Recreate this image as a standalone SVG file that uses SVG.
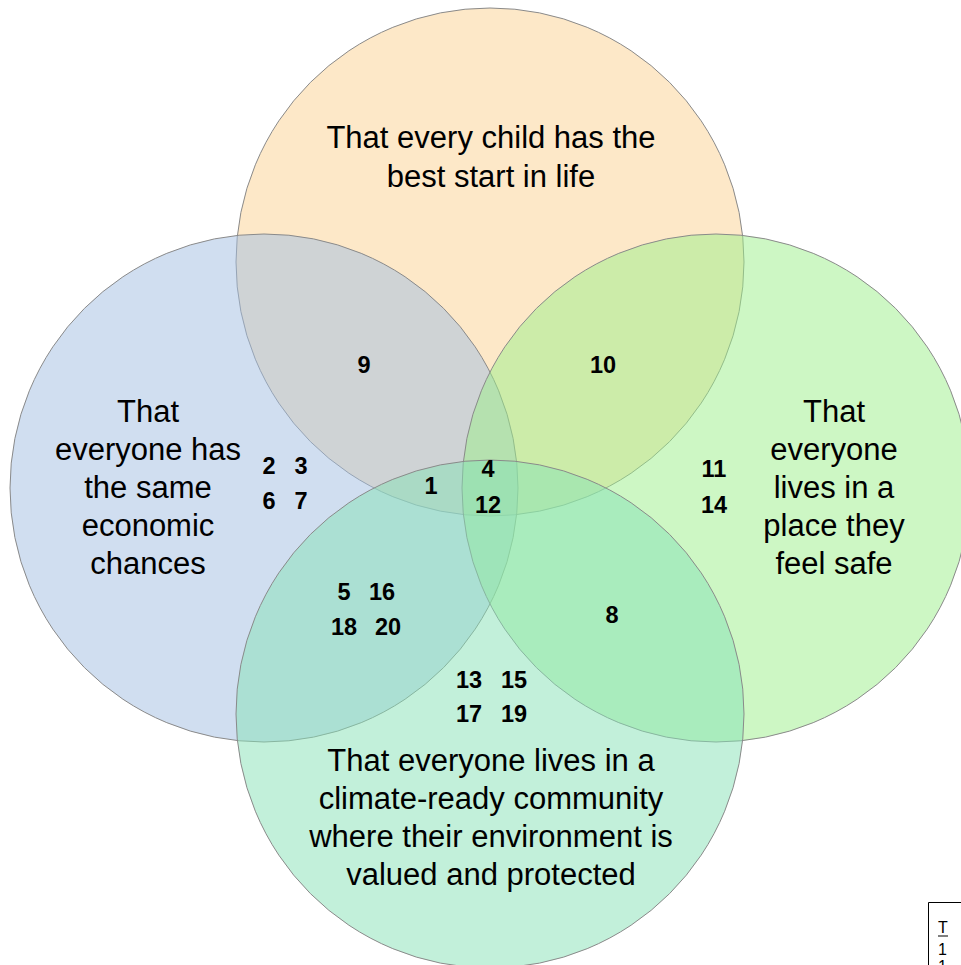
<svg xmlns="http://www.w3.org/2000/svg" width="961" height="965" viewBox="0 0 961 965">
<style>
.c{stroke:#8a8a8a;stroke-width:1;fill-opacity:0.5}
.lbl{font-family:"Liberation Sans",Arial,sans-serif;font-size:31px;fill:#000;text-anchor:middle}
.num{font-family:"Liberation Sans",Arial,sans-serif;font-size:23.5px;font-weight:bold;fill:#000;text-anchor:middle}
.tb{font-family:"Liberation Sans",Arial,sans-serif;font-size:16px;fill:#000}
</style>
<rect width="961" height="965" fill="#fff"/>
<g id="top-circle"><circle class="c" cx="490" cy="262" r="254" fill="#FBD191"/></g>
<g id="left-circle"><circle class="c" cx="264" cy="488" r="254" fill="#A1BDE1"/></g>
<g id="right-circle"><circle class="c" cx="716" cy="488" r="254" fill="#9BEF89"/></g>
<g id="bottom-circle"><circle class="c" cx="490" cy="714" r="254" fill="#85E1B5"/></g>
<g id="top-label">
<text class="lbl" x="491" y="148">That every child has the</text>
<text class="lbl" x="491" y="187">best start in life</text>
</g>
<g id="left-label">
<text class="lbl" x="148" y="422">That</text>
<text class="lbl" x="148" y="460">everyone has</text>
<text class="lbl" x="148" y="498">the same</text>
<text class="lbl" x="148" y="536">economic</text>
<text class="lbl" x="148" y="574">chances</text>
</g>
<g id="right-label">
<text class="lbl" x="834" y="422">That</text>
<text class="lbl" x="834" y="460">everyone</text>
<text class="lbl" x="834" y="498">lives in a</text>
<text class="lbl" x="834" y="536">place they</text>
<text class="lbl" x="834" y="574">feel safe</text>
</g>
<g id="bottom-label">
<text class="lbl" x="491" y="771">That everyone lives in a</text>
<text class="lbl" x="491" y="809">climate-ready community</text>
<text class="lbl" x="491" y="847">where their environment is</text>
<text class="lbl" x="491" y="885">valued and protected</text>
</g>
<g id="numbers">
<text class="num" x="364" y="373">9</text>
<text class="num" x="603" y="373">10</text>
<text class="num" x="269" y="474">2</text>
<text class="num" x="301" y="474">3</text>
<text class="num" x="269" y="509">6</text>
<text class="num" x="301" y="509">7</text>
<text class="num" x="431" y="494">1</text>
<text class="num" x="488" y="477">4</text>
<text class="num" x="488" y="513">12</text>
<text class="num" x="714" y="477">11</text>
<text class="num" x="714" y="513">14</text>
<text class="num" x="344" y="600">5</text>
<text class="num" x="382" y="600">16</text>
<text class="num" x="344" y="635">18</text>
<text class="num" x="388" y="635">20</text>
<text class="num" x="612" y="623">8</text>
<text class="num" x="469" y="688">13</text>
<text class="num" x="514" y="688">15</text>
<text class="num" x="469" y="722">17</text>
<text class="num" x="514" y="722">19</text>
</g>
<g id="table">
<path d="M928.5 965 V902.5 H961" fill="none" stroke="#000" stroke-width="1"/>
<text class="tb" x="938" y="933">T</text>
<line x1="938" y1="936" x2="948" y2="936" stroke="#000" stroke-width="1"/>
<text class="tb" x="938" y="955">1</text>
<text class="tb" x="938" y="972">1</text>
</g>
</svg>
